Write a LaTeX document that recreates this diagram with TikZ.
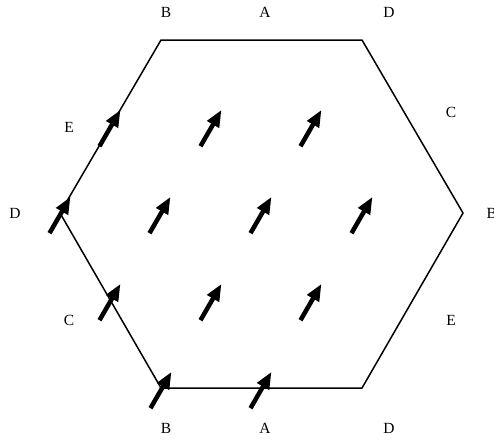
\documentclass[tikz,border=0pt]{standalone}
\usepackage{fontspec}
\setmainfont{Liberation Serif}
\usetikzlibrary{arrows.meta}
\begin{document}
\begin{tikzpicture}[x=1pt,y=-1pt,
  hexline/.style={line width=1.5pt,line join=miter},
  lbl/.style={font=\fontsize{15.5}{18}\selectfont,inner sep=0pt},
  fatarrow/.style={line width=4.5pt,-{Triangle[length=17pt,width=13pt]}}]
\useasboundingbox (0,0) rectangle (494,440);
% hexagon vertices
\coordinate (tl) at (161,40);
\coordinate (tr) at (362,40);
\coordinate (r) at (463,213);
\coordinate (br) at (362,388);
\coordinate (bl) at (161,388);
\coordinate (l) at (60,213);
\draw[hexline] (tl) -- (tr) -- (r) -- (br) -- (bl) -- (l) -- cycle;
% labels
\node[lbl] (vB1) at (166,12) {B};
\node[lbl] (eA1) at (265,12) {A};
\node[lbl] (vD1) at (389,12) {D};
\node[lbl] (eC1) at (451,112) {C};
\node[lbl,anchor=west] (vB2) at (486.5,213) {B};
\node[lbl] (eE1) at (451,320) {E};
\node[lbl] (vD2) at (389,428) {D};
\node[lbl] (eA2) at (265,428) {A};
\node[lbl] (vB3) at (166,428) {B};
\node[lbl] (eC2) at (69,320) {C};
\node[lbl] (vD3) at (15,213) {D};
\node[lbl] (eE2) at (69,127) {E};
% arrows: tail and tip coordinates
\foreach \cx/\cy in {110/128,211/128,311/128,60/215,160/215,261/215,362/215,110/302,211/302,311/302,161/390,261/390}{
  \draw[fatarrow] (\cx-10.5,\cy+18.2) -- (\cx+10.5,\cy-18.2);
}
\end{tikzpicture}
\end{document}
